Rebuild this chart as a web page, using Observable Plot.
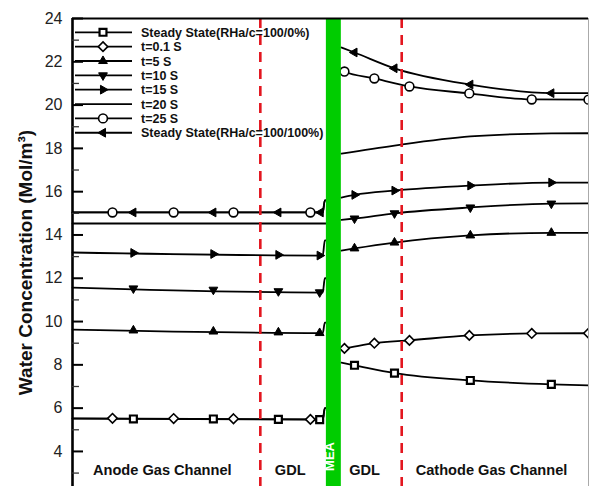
<!DOCTYPE html>
<html><head><meta charset="utf-8">
<script src="https://cdn.jsdelivr.net/npm/d3@7"></script>
<script src="https://cdn.jsdelivr.net/npm/@observablehq/plot@0.6"></script>
<style>
body{margin:0;background:#fff;font-family:"Liberation Sans",Arial,sans-serif;}
#chart{position:relative;width:589px;height:486px;overflow:hidden;}
#legend{position:absolute;left:72px;top:18px;}
</style></head><body><div id="chart"></div>
<script>
// ---------- data (x: position across the cell, % of plotted width; y: mol/m3) ----------
const seriesNames = ["Steady State(RHa/c=100/0%)","t=0.1 S","t=5 S","t=10 S","t=15 S","t=20 S","t=25 S","Steady State(RHa/c=100/100%)"];
const yTicks = [4,6,8,10,12,14,16,18,20,22,24];
const yMinorTicks = [3,5,7,9,11,13,15,17,19,21,23];
const boundaries = [36.4, 63.8];          // GDL / channel interfaces (dashed)
const meaBand = [49.2, 52.1];             // membrane electrode assembly
const regionNames = ["Anode Gas Channel","GDL","GDL","Cathode Gas Channel"];
const regionLabelX = [17.4, 42.2, 56.6, 81.2];
const meaLabel = "MEA";
const meaLabelX = 50.65;

// each series: left (anode) segment, right (cathode) segment, marker points
const ss0Left   = [[0,5.52],[48.5,5.47],[48.9,6.0],[49.6,6.0]];
const ss0Right  = [[52.1,8.1],[54.65,7.98],[62.4,7.62],[77.1,7.28],[92.8,7.1],[100,7.05]];
const ss0Marks  = [[11.8,5.5],[27.3,5.5],[39.9,5.48],[47.9,5.47],[54.65,7.98],[62.4,7.62],[77.1,7.28],[92.8,7.1]];

const t01Left   = [[0,5.53],[48.5,5.48],[48.9,6.0],[49.6,6.0]];
const t01Right  = [[52.1,8.74],[52.7,8.76],[58.5,9.0],[65.3,9.13],[76.9,9.36],[89.0,9.45],[100,9.46]];
const t01Marks  = [[7.75,5.53],[19.6,5.52],[31.2,5.51],[46.1,5.48],[52.7,8.76],[58.5,9.0],[65.3,9.13],[76.9,9.36],[89.0,9.45],[100,9.46]];

const t5Left    = [[0,9.63],[48.5,9.47],[48.9,9.95],[49.6,9.95]];
const t5Right   = [[52.1,13.28],[54.65,13.38],[62.4,13.65],[77.1,13.98],[92.8,14.1],[100,14.1]];
const t5Marks   = [[11.8,9.59],[27.3,9.54],[39.9,9.5],[47.9,9.47],[54.65,13.38],[62.4,13.65],[77.1,13.98],[92.8,14.1]];

const t10Left   = [[0,11.57],[48.5,11.34],[48.9,12.0],[49.6,12.0]];
const t10Right  = [[52.1,14.7],[54.65,14.76],[62.4,15.0],[77.1,15.27],[92.8,15.45],[100,15.46]];
const t10Marks  = [[11.8,11.53],[27.3,11.47],[39.9,11.4],[47.9,11.35],[54.65,14.76],[62.4,15.0],[77.1,15.27],[92.8,15.45]];

const t15Left   = [[0,13.19],[48.5,13.05],[48.9,13.75],[49.6,13.75]];
const t15Right  = [[52.1,15.73],[54.65,15.85],[62.4,16.05],[77.1,16.28],[92.8,16.42],[100,16.42]];
const t15Marks  = [[11.8,13.17],[27.3,13.12],[39.9,13.08],[47.9,13.05],[54.65,15.85],[62.4,16.05],[77.1,16.28],[92.8,16.42]];

const t20Left   = [[0,14.53],[49.6,14.53]];
const t20Right  = [[52.1,17.76],[62.4,18.13],[77.1,18.55],[92.8,18.69],[100,18.7]];
const t20Marks  = [];

const t25Left   = [[0,15.04],[48.5,15.04],[48.9,15.6],[49.6,15.6]];
const t25Right  = [[52.1,21.62],[52.7,21.55],[58.5,21.23],[65.3,20.86],[76.9,20.54],[89.0,20.26],[100,20.25]];
const t25Marks  = [[7.75,15.04],[19.6,15.04],[31.2,15.04],[46.1,15.04],[52.7,21.55],[58.5,21.23],[65.3,20.86],[76.9,20.54],[89.0,20.26],[100,20.25]];

const ss100Left  = [[0,15.04],[48.5,15.04],[48.9,15.6],[49.6,15.6]];
const ss100Right = [[52.1,22.66],[54.65,22.43],[62.4,21.7],[77.1,20.95],[92.8,20.55],[100,20.55]];
const ss100Marks = [[11.8,15.04],[27.3,15.04],[39.9,15.04],[48.1,15.04],[54.65,22.43],[62.4,21.7],[77.1,20.95],[92.8,20.55]];

// ---------- symbols ----------
function tri(angle){
  return {draw(ctx, size){
    const R = Math.sqrt(size/Math.PI)*1.15;
    for (let i=0;i<3;i++){
      const a = angle + i*2*Math.PI/3;
      const px = R*Math.cos(a), py = R*Math.sin(a);
      if (i) ctx.lineTo(px,py); else ctx.moveTo(px,py);
    }
    ctx.closePath();
  }};
}
const styles = [
  {sym: d3.symbolSquare,   fill: "white", sw: 2.2, r: 3.9},
  {sym: d3.symbolDiamond2, fill: "white", sw: 1.6, r: 4.3},
  {sym: tri(-Math.PI/2),   fill: "black", sw: 1,   r: 4.4},
  {sym: tri(Math.PI/2),    fill: "black", sw: 1,   r: 4.4},
  {sym: tri(0),            fill: "black", sw: 1,   r: 4.4},
  null,
  {sym: d3.symbolCircle,   fill: "white", sw: 1.6, r: 4.4},
  {sym: tri(Math.PI),      fill: "black", sw: 1,   r: 4.4}
];
const lefts  = [ss0Left,t01Left,t5Left,t10Left,t15Left,t20Left,t25Left,ss100Left];
const rights = [ss0Right,t01Right,t5Right,t10Right,t15Right,t20Right,t25Right,ss100Right];
const marks  = [ss0Marks,t01Marks,t5Marks,t10Marks,t15Marks,t20Marks,t25Marks,ss100Marks];

const lineRows = [];
seriesNames.forEach((name,i)=>{
  lefts[i].forEach(([x,y])=>lineRows.push({name, seg: name+"L", x, y}));
  rights[i].forEach(([x,y])=>lineRows.push({name, seg: name+"R", x, y}));
});

const plotMarks = [
  Plot.line(lineRows, {x:"x", y:"y", z:"seg", stroke:"black", strokeWidth:1.8, curve:"monotone-x"}),
];
seriesNames.forEach((name,i)=>{
  const s = styles[i];
  if (!s) return;
  plotMarks.push(Plot.dot(marks[i].map(([x,y])=>({x,y})), {x:"x", y:"y", symbol: s.sym, r: s.r, fill: s.fill, stroke:"black", strokeWidth: s.sw}));
});
plotMarks.push(
  Plot.ruleX(boundaries, {stroke:"#e3161f", strokeWidth:2.6, strokeDasharray:"10,7"}),
  Plot.rect([meaBand], {x1: d=>d[0], x2: d=>d[1], fill:"#00cc00"}),
  Plot.ruleY([24], {stroke:"black", strokeWidth:2}),
  Plot.ruleX([100], {stroke:"#aaa", strokeWidth:1}),
  Plot.ruleX([0], {stroke:"black", strokeWidth:2.6}),
  Plot.axisY(yTicks, {tickSize:11, dx:11, strokeWidth:2, tickFormat: ()=>"", label:null}),
  Plot.ruleY(yMinorTicks, {x1:0, x2:1.35, stroke:"#333", strokeWidth:1.3}),
  Plot.axisY(yTicks, {tickSize:0, tickPadding:10, fontSize:16, fill:"#222", label:null}),
  Plot.text(["Water Concentration (Mol/m³)"], {frameAnchor:"left", textAnchor:"middle", rotate:-90, dx:-47, dy:10, fontSize:19, fontWeight:"bold", fill:"#111"}),
  Plot.text(regionNames, {x:(d,i)=>regionLabelX[i], frameAnchor:"bottom", dy:-12, fontSize:14.6, fontWeight:"bold", fill:"#111"}),
  Plot.text([meaLabel], {x:()=>meaLabelX, frameAnchor:"bottom", dy:-30, rotate:-90, fontSize:13, fontWeight:"bold", fill:"white"})
);

const plot = Plot.plot({
  width:589, height:486,
  marginLeft:72, marginRight:1, marginTop:18, marginBottom:0,
  style:{fontFamily:"'Liberation Sans', Arial, sans-serif", background:"white", overflow:"hidden"},
  x:{domain:[0,100], axis:null},
  y:{domain:[2.38,24], axis:null},
  marks: plotMarks
});
document.getElementById("chart").appendChild(plot);

// ---------- legend (inside the frame, top-left) ----------
const lg = d3.select("#chart").append("svg").attr("id","legend").attr("width",260).attr("height",130);
seriesNames.forEach((name,i)=>{
  const g = lg.append("g").attr("transform",`translate(0,${14.3+14.35*i})`);
  g.append("line").attr("x1",3).attr("x2",60).attr("stroke","black").attr("stroke-width",1.8);
  const s = styles[i];
  if (s) g.append("path").attr("transform","translate(31,0)")
    .attr("d", d3.symbol(s.sym, Math.PI*s.r*s.r)())
    .attr("fill", s.fill).attr("stroke","black").attr("stroke-width", s.sw);
  g.append("text").attr("x",69).attr("dy","0.36em").attr("font-size",12.5).attr("font-weight","bold")
    .attr("font-family","'Liberation Sans', Arial, sans-serif").attr("fill","#111").text(name);
});
</script>
</body></html>
